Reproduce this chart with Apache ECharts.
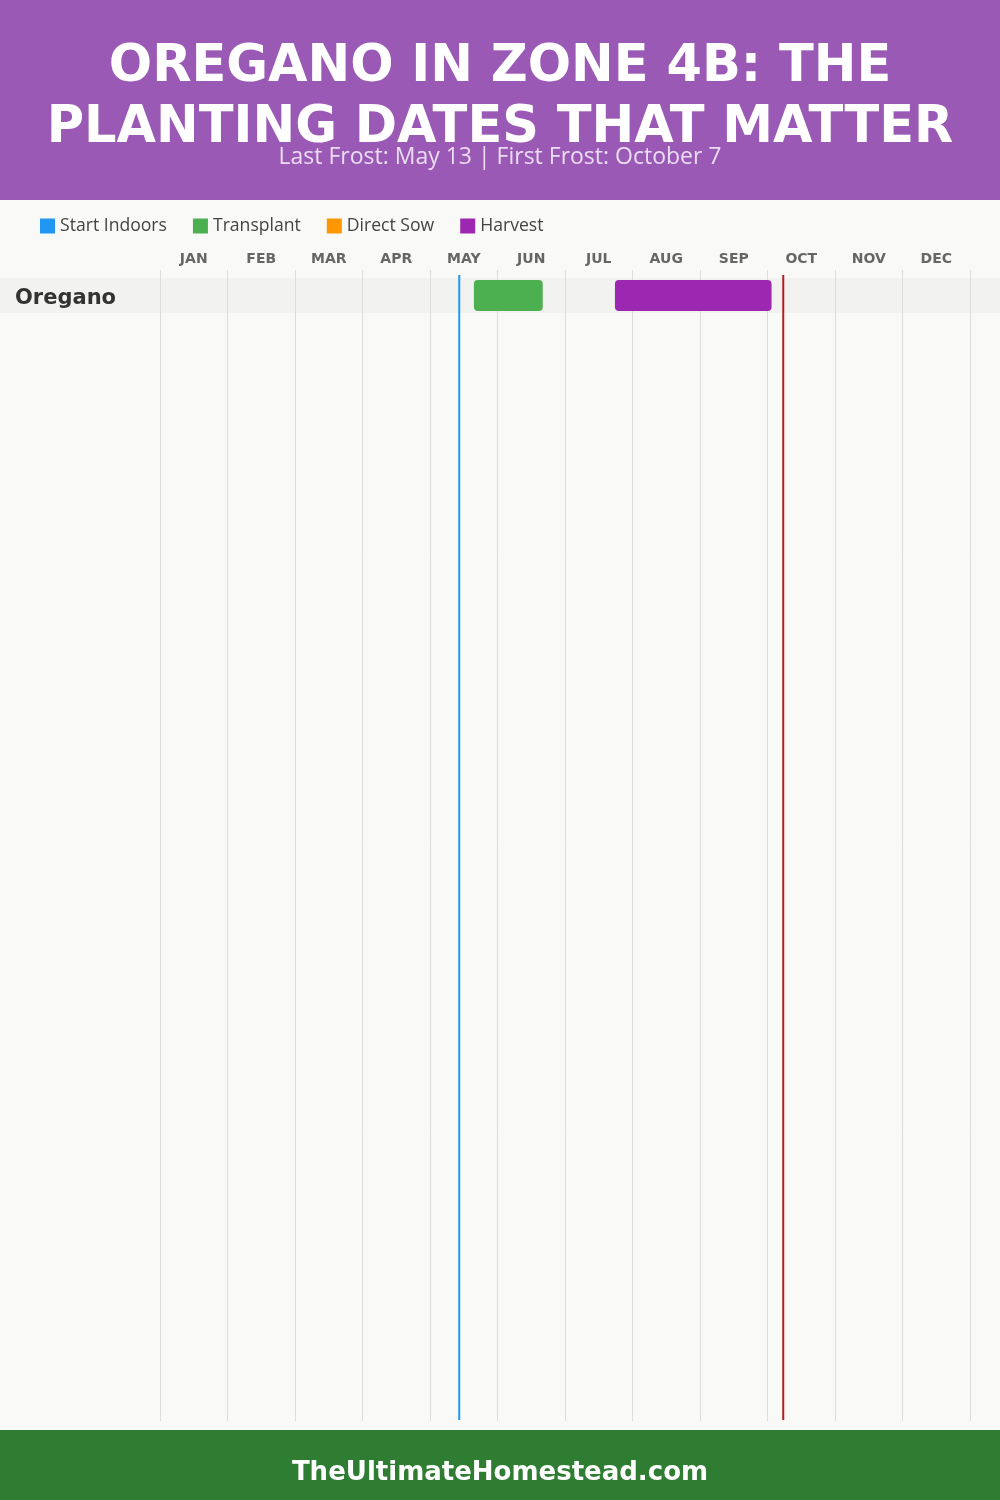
<!DOCTYPE html>
<html>
<head>
<meta charset="utf-8">
<style>
  html, body { margin: 0; padding: 0; background: #f9f9f7; }
  #chart { width: 1000px; height: 1500px; }
</style>
<script src="https://cdn.jsdelivr.net/npm/echarts@6/dist/echarts.min.js"></script>
</head>
<body>
<div id="chart"></div>
<script>
// ---- data (x values in month units: 0 = Jan 1, 12 = Dec end) ----
const months = ['JAN','FEB','MAR','APR','MAY','JUN','JUL','AUG','SEP','OCT','NOV','DEC'];
const crops = ['Oregano'];
const startIndoors = [];                 // none for oregano
const transplant = [[4.65, 5.67, 0]];    // ~May 20 – Jun 20
const directSow = [];                    // none
const harvest = [[6.74, 9.06, 0]];       // ~Jul 22 – Oct 2
const lastFrost = 4 + 13 / 30;           // May 13
const firstFrost = 9 + 7 / 30;           // October 7

const titleText = 'OREGANO IN ZONE 4B: THE\nPLANTING DATES THAT MATTER';
const subtitleText = 'Last Frost: May 13 | First Frost: October 7';
const footerText = 'TheUltimateHomestead.com';

const COLORS = {
  indoors: '#2196f3', transplant: '#4caf50', sow: '#ff9800', harvest: '#9c27b0',
  last: '#2196f3', first: '#b71c1c'
};

function renderBar(params, api) {
  const s = api.coord([api.value(0), api.value(2)]);
  const e = api.coord([api.value(1), api.value(2)]);
  const h = 31;
  return {
    type: 'rect',
    shape: { x: s[0], y: s[1] - h / 2, width: e[0] - s[0], height: h, r: 4 },
    style: { fill: api.visual('color') }
  };
}
function renderFrost(params, api) {
  const p = api.coord([api.value(0), 0]);
  const cs = params.coordSys;
  return {
    type: 'line',
    shape: { x1: p[0], y1: cs.y, x2: p[0], y2: cs.y + cs.height },
    style: { stroke: api.visual('color'), lineWidth: 2 }
  };
}

const chart = echarts.init(document.getElementById('chart'), null, { renderer: 'canvas' });
const option = {
  backgroundColor: '#f9f9f7',
  animation: false,
  graphic: {
    elements: [
      { type: 'rect', z: -10, shape: { x: 0, y: 0, width: 1000, height: 200 }, style: { fill: '#9b59b6' } },
      { type: 'rect', z: -10, shape: { x: 0, y: 278, width: 1000, height: 35 }, style: { fill: '#f2f2f0' } },
      { type: 'rect', z: -10, shape: { x: 0, y: 1430, width: 1000, height: 70 }, style: { fill: '#2e7d32' } }
    ]
  },
  title: [
    {
      text: titleText, left: 'center', top: 32,
      textStyle: { color: '#ffffff', fontFamily: 'DejaVu Sans', fontWeight: 'bold', fontSize: 51, lineHeight: 61 }
    },
    {
      text: subtitleText, left: 'center', top: 138,
      textStyle: { color: '#eadcf2', fontFamily: 'Open Sans', fontWeight: 'normal', fontSize: 23, lineHeight: 28 }
    },
    {
      text: footerText, left: 'center', top: 1450,
      textStyle: { color: '#ffffff', fontFamily: 'DejaVu Sans', fontWeight: 'bold', fontSize: 26, lineHeight: 36 }
    }
  ],
  legend: {
    left: 40, top: 217, padding: 0,
    icon: 'rect', itemWidth: 15, itemHeight: 15, itemGap: 26,
    textStyle: { color: '#444', fontFamily: 'Open Sans', fontSize: 17.6 },
    data: ['Start Indoors', 'Transplant', 'Direct Sow', 'Harvest']
  },
  grid: [
    { left: 160, right: 30, top: 270, bottom: 79 },        // month columns
    { left: 160, right: 30, top: 278, height: 35 },        // crop row
    { left: 160, right: 30, top: 275, bottom: 80 }         // frost lines
  ],
  xAxis: [
    { type: 'value', gridIndex: 0, min: 0, max: 12, interval: 1,
      axisLine: { show: false }, axisTick: { show: false }, axisLabel: { show: false },
      splitLine: { show: true, lineStyle: { color: '#dddddd', width: 1 } } },
    { type: 'category', gridIndex: 0, position: 'top', data: months, boundaryGap: true,
      axisLine: { show: false }, axisTick: { show: false }, splitLine: { show: false },
      axisLabel: { margin: 4, color: '#666', fontFamily: 'DejaVu Sans', fontWeight: 'bold', fontSize: 14 } },
    { type: 'value', gridIndex: 1, min: 0, max: 12, show: false, splitLine: { show: false } },
    { type: 'value', gridIndex: 2, min: 0, max: 12, show: false, splitLine: { show: false } }
  ],
  yAxis: [
    { type: 'value', gridIndex: 0, show: false, splitLine: { show: false } },
    { type: 'category', gridIndex: 1, data: crops,
      axisLine: { show: false }, axisTick: { show: false }, splitLine: { show: false },
      axisLabel: {
        align: 'left', margin: 145,
        formatter: '{n|{value}}',
        rich: { n: { padding: [6, 0, 0, 0], color: '#333', fontFamily: 'DejaVu Sans', fontWeight: 'bold', fontSize: 21 } }
      } },
    { type: 'value', gridIndex: 2, min: 0, max: 1, show: false, splitLine: { show: false } }
  ],
  series: [
    { name: 'Start Indoors', type: 'custom', xAxisIndex: 2, yAxisIndex: 1, renderItem: renderBar,
      itemStyle: { color: COLORS.indoors }, encode: { x: [0, 1], y: 2 }, data: startIndoors },
    { name: 'Transplant', type: 'custom', xAxisIndex: 2, yAxisIndex: 1, renderItem: renderBar,
      itemStyle: { color: COLORS.transplant }, encode: { x: [0, 1], y: 2 }, data: transplant },
    { name: 'Direct Sow', type: 'custom', xAxisIndex: 2, yAxisIndex: 1, renderItem: renderBar,
      itemStyle: { color: COLORS.sow }, encode: { x: [0, 1], y: 2 }, data: directSow },
    { name: 'Harvest', type: 'custom', xAxisIndex: 2, yAxisIndex: 1, renderItem: renderBar,
      itemStyle: { color: COLORS.harvest }, encode: { x: [0, 1], y: 2 }, data: harvest },
    { name: 'Last Frost', type: 'custom', xAxisIndex: 3, yAxisIndex: 2, renderItem: renderFrost,
      itemStyle: { color: COLORS.last }, encode: { x: 0 }, data: [[lastFrost]], silent: true },
    { name: 'First Frost', type: 'custom', xAxisIndex: 3, yAxisIndex: 2, renderItem: renderFrost,
      itemStyle: { color: COLORS.first }, encode: { x: 0 }, data: [[firstFrost]], silent: true }
  ]
};
chart.setOption(option);
</script>
</body>
</html>
